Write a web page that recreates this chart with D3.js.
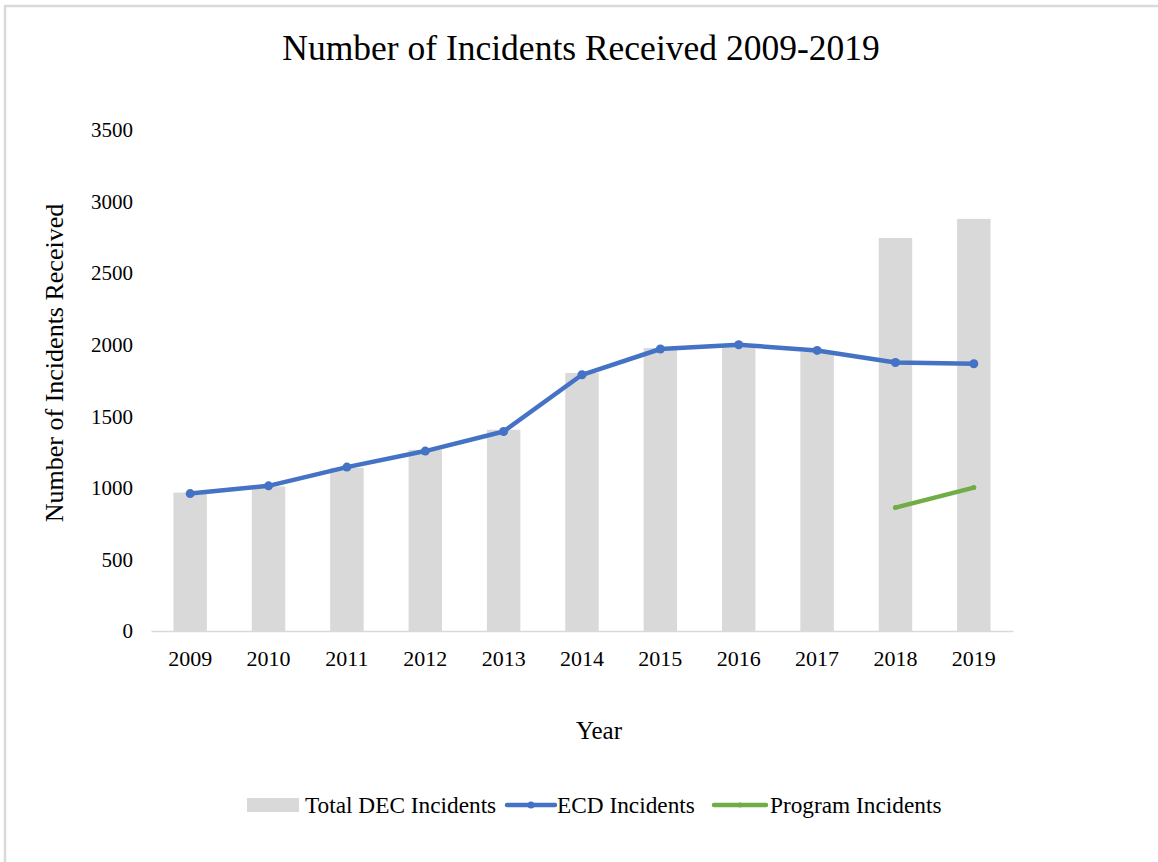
<!DOCTYPE html>
<html>
<head>
<meta charset="utf-8">
<script src="https://cdn.jsdelivr.net/npm/d3@7"></script>
<style>
  body { margin: 0; background: #fff; }
  svg text { font-family: "Liberation Serif", "Times New Roman", serif; fill: #000; }
</style>
</head>
<body>
<svg id="chart" width="1158" height="862" viewBox="0 0 1158 862"></svg>
<script>
// Data
const years = ["2009", "2010", "2011", "2012", "2013", "2014", "2015", "2016", "2017", "2018", "2019"]
const totalDEC = [967, 1010, 1140, 1266, 1406, 1802, 1977, 2000, 1950, 2746, 2879]
const ecdIncidents = [960, 1014, 1145, 1257, 1394, 1790, 1970, 2000, 1960, 1876, 1867]
const programIncidents = [null, null, null, null, null, null, null, null, null, 862, 1002]
const yTicks = [0, 500, 1000, 1500, 2000, 2500, 3000, 3500]

const svg = d3.select("#chart")
const width = parseInt(svg.attr("viewBox").split(' ')[2])
const height = parseInt(svg.attr("viewBox").split(' ')[3])

const blue = "#4472C4", green = "#70AD47", grey = "#D9D9D9"

// chart frame (only top and left edges are visible in the picture)
svg.append("rect")
    .attr("x", 5).attr("y", 6)
    .attr("width", width + 20).attr("height", height + 20)
    .attr("fill", "none")
    .attr("stroke", grey)
    .attr("stroke-width", 2.5)

const plot = { left: 151, right: 1013, top: 130, bottom: 631 }

const x = d3.scaleBand()
    .domain(years)
    .range([plot.left, plot.right])
    .paddingInner(0.573)
    .paddingOuter(0.2865)

const y = d3.scaleLinear()
    .domain([0, 3500])
    .range([plot.bottom, plot.top])

// Title
svg.append("text")
    .attr("x", 581).attr("y", 60)
    .attr("text-anchor", "middle")
    .style("font-size", "35.5px")
    .text("Number of Incidents  Received 2009-2019")

// Bars - Total DEC incidents
svg.append("g")
    .selectAll("rect")
    .data(years.map((yr, i) => ({ year: yr, value: totalDEC[i] })))
    .enter()
    .append("rect")
    .attr("x", d => x(d.year))
    .attr("y", d => y(d.value))
    .attr("width", x.bandwidth())
    .attr("height", d => y(0) - y(d.value))
    .attr("fill", grey)

// x axis line + labels
const xAxis = svg.append("g")
    .attr("transform", `translate(0,${plot.bottom})`)
    .call(d3.axisBottom(x).tickSize(0).tickPadding(19))
xAxis.select(".domain").attr("stroke", grey).attr("stroke-width", 1.5)
xAxis.selectAll("text").style("font-size", "22px").attr("dy", "0.71em")

// y axis labels, no line
const yAxis = svg.append("g")
    .attr("transform", `translate(${plot.left},0)`)
    .call(d3.axisLeft(y).tickValues(yTicks).tickFormat(d3.format("d")).tickSize(0).tickPadding(18))
yAxis.select(".domain").remove()
yAxis.selectAll("text").style("font-size", "21px")

// axis titles
svg.append("text")
    .attr("transform", "translate(63,363) rotate(-90)")
    .attr("text-anchor", "middle")
    .style("font-size", "26px")
    .text("Number of Incidents  Received")

svg.append("text")
    .attr("x", 599).attr("y", 739)
    .attr("text-anchor", "middle")
    .style("font-size", "25px")
    .text("Year")

// Lines
const cx = d => x(d.year) + x.bandwidth() / 2
const line = d3.line()
    .defined(d => d.value != null)
    .x(cx)
    .y(d => y(d.value))

function drawSeries(values, color, r) {
    const pts = years.map((yr, i) => ({ year: yr, value: values[i] }))
    svg.append("path")
        .datum(pts)
        .attr("d", line)
        .attr("fill", "none")
        .attr("stroke", color)
        .attr("stroke-width", 4.5)
        .attr("stroke-linecap", "round")
        .attr("stroke-linejoin", "round")
    svg.append("g")
        .selectAll("circle")
        .data(pts.filter(d => d.value != null))
        .enter()
        .append("circle")
        .attr("cx", cx)
        .attr("cy", d => y(d.value))
        .attr("r", r)
        .attr("fill", color)
}
drawSeries(ecdIncidents, blue, 4.5)
drawSeries(programIncidents, green, 2.5)

// Legend
const legend = svg.append("g").attr("transform", "translate(0,805)")
legend.append("rect")
    .attr("x", 247).attr("y", -7).attr("width", 52).attr("height", 14)
    .attr("fill", grey)
legend.append("text").attr("x", 305).attr("y", 8).style("font-size", "23.3px").text("Total DEC Incidents")

legend.append("line")
    .attr("x1", 507).attr("x2", 555).attr("y1", 0).attr("y2", 0)
    .attr("stroke", blue).attr("stroke-width", 4.5).attr("stroke-linecap", "round")
legend.append("circle").attr("cx", 531).attr("cy", 0).attr("r", 3.5).attr("fill", blue)
legend.append("text").attr("x", 557).attr("y", 8).style("font-size", "23.3px").text("ECD Incidents")

legend.append("line")
    .attr("x1", 714).attr("x2", 766).attr("y1", 0).attr("y2", 0)
    .attr("stroke", green).attr("stroke-width", 4.5).attr("stroke-linecap", "round")
legend.append("circle").attr("cx", 740).attr("cy", 0).attr("r", 2.5).attr("fill", green)
legend.append("text").attr("x", 770).attr("y", 8).style("font-size", "23.3px").text("Program Incidents")
</script>
</body>
</html>
